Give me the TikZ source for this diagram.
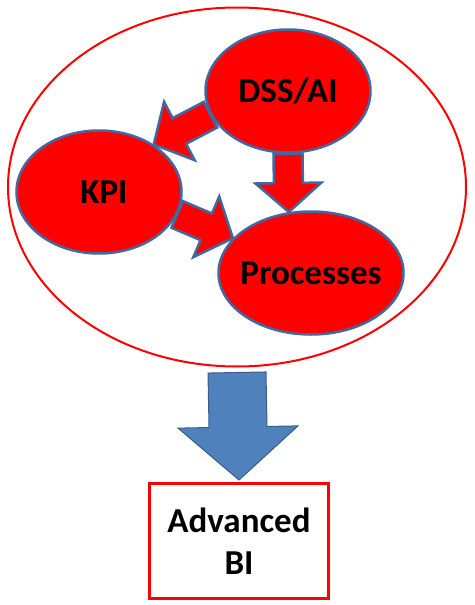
\documentclass[tikz,border=0pt]{standalone}
\usepackage{fontspec}
\setmainfont{Carlito}
\usepackage{tikz}
\usetikzlibrary{shapes.geometric,calc,backgrounds}
\definecolor{rimblue}{RGB}{65,105,160}
\definecolor{bigblue}{RGB}{79,129,189}
\definecolor{bigblueline}{RGB}{56,93,138}
% block arrow from #2 to #3: shaft half width #4, head half width #5, head length #6
\newcommand{\blockarrow}[6][]{%
\path[#1] let \p1=(#2), \p2=(#3), \n1={atan2(\y2-\y1,\x2-\x1)}, \n2={veclen(\x2-\x1,\y2-\y1)} in
{[shift={(\p1)},rotate=\n1] (0pt,-#4pt) -- ({\n2-#6pt},-#4pt) -- ({\n2-#6pt},-#5pt) -- (\n2,0pt)
-- ({\n2-#6pt},#5pt) -- ({\n2-#6pt},#4pt) -- (0pt,#4pt) -- cycle};}

\begin{document}
\begin{tikzpicture}
[x=1pt,y=-1pt,
bubble/.style={ellipse,fill=red,draw=rimblue,line width=2.5pt,inner sep=0pt,
minimum height=123pt,font=\fontsize{35}{42}\selectfont\bfseries},
redarrow/.style={fill=red,draw=rimblue,line width=2.5pt,line join=miter},
bluearrow/.style={fill=bigblue,draw=bigblueline,line width=1pt,line join=miter}]
\useasboundingbox (0,0) rectangle (474,605);

\node (outer) at (237,187) [ellipse,draw=red,line width=2pt,minimum width=458pt,minimum height=359pt] {};
\node (dss) at (288,91) [bubble,minimum width=165pt] {DSS/AI};
\node (kpi) at (99,192) [bubble,minimum width=165pt] {\hspace{10pt}KPI};
\node (proc) at (311,273) [bubble,minimum width=185pt,inner xsep=-12pt] {Processes};
\node (bi) at (239,541) [rectangle,draw=red,line width=3pt,minimum width=179pt,minimum height=115pt,
align=center,font=\fontsize{35}{42}\selectfont\bfseries] {Advanced\\BI};

\begin{scope}[on background layer]
\blockarrow[redarrow]{dss.197}{kpi.41}{14.5}{33}{29}
\blockarrow[redarrow]{dss.south}{proc.110}{14.5}{33}{29}
\blockarrow[redarrow]{kpi.344}{proc.156}{14.5}{33}{29}
\end{scope}
\blockarrow[bluearrow]{$(outer.south)+(0,5)$}{$(bi.north)+(0,-2)$}{29}{60}{53}

\end{tikzpicture}
\end{document}
